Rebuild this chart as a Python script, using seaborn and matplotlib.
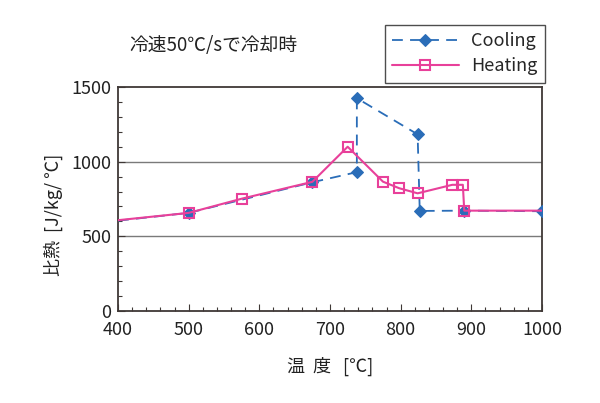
import numpy as np
import pandas as pd
import matplotlib
matplotlib.use("Agg")
import matplotlib.pyplot as plt
import seaborn as sns
from matplotlib.ticker import MultipleLocator

# 冷却時 (Cooling)
cool_temp = [400, 500, 675, 738, 738, 824, 827, 890, 1000]
cool_cp = [605, 657, 862, 930, 1425, 1183, 670, 672, 668]

# 加熱時 (Heating)
heat_temp = [400, 500, 575, 675, 725, 775, 798, 824, 873, 888, 890, 1000]
heat_cp = [608, 657, 752, 865, 1100, 866, 822, 788, 845, 845, 672, 672]

x_ticks = [400, 500, 600, 700, 800, 900, 1000]
y_ticks = [0, 500, 1000, 1500]

sns.set_theme(style="white")
plt.rcParams['font.family'] = ['Noto Sans CJK JP', 'DejaVu Sans']

blue = "#2a6db8"
pink = "#e8409a"
spine_c = "#3f3836"

fig = plt.figure(figsize=(6.0, 4.03), dpi=100)
ax = fig.add_axes([0.1967, 0.2283, 0.7066, 0.5558])

df_c = pd.DataFrame({"temp": cool_temp, "cp": cool_cp})
df_h = pd.DataFrame({"temp": heat_temp, "cp": heat_cp})

for y in [500, 1000]:
    ax.axhline(y, color="#7a7a7a", lw=1.0, zorder=0)

sns.lineplot(data=df_c, x="temp", y="cp", ax=ax, sort=False, estimator=None,
             color=blue, lw=1.3, dashes=False, linestyle=(0, (6, 4)),
             marker="D", markersize=6, markeredgecolor=blue, markerfacecolor=blue,
             markevery=list(range(1, len(cool_temp))), label="Cooling", zorder=3)
sns.lineplot(data=df_h, x="temp", y="cp", ax=ax, sort=False, estimator=None,
             color=pink, lw=1.5, marker="s", markersize=7.5, markeredgecolor=pink,
             markerfacecolor="none", markeredgewidth=1.5,
             markevery=list(range(1, len(heat_temp) - 1)), label="Heating", zorder=4)

ax.set_xlim(400, 1000)
ax.set_ylim(0, 1500)
ax.set_xticks(x_ticks)
ax.set_yticks(y_ticks)
ax.xaxis.set_minor_locator(MultipleLocator(20))
ax.yaxis.set_minor_locator(MultipleLocator(100))
ax.tick_params(axis="both", which="major", direction="in", length=5, width=0.8,
               color=spine_c, labelsize=13, labelcolor="#222222", pad=5)
ax.tick_params(axis="both", which="minor", direction="in", length=3, width=0.8, color=spine_c)
ax.tick_params(axis="x", which="major", pad=7)
ax.tick_params(bottom=True, left=True, which="both")
for s in ax.spines.values():
    s.set_color(spine_c)
    s.set_linewidth(1.3)

ax.set_xlabel("温  度   [℃]", fontsize=13, color="#222222", labelpad=13)
ax.set_ylabel("比熱  [J/kg/ ℃]", fontsize=13, color="#222222")
ax.yaxis.set_label_coords(-0.13, 0.43)

fig.text(0.355, 0.888, "冷速50℃/sで冷却時", fontsize=13.5, ha="center", va="center",
         color="#222222")

leg = ax.legend(loc="upper right", bbox_to_anchor=(0.908, 0.938),
                bbox_transform=fig.transFigure, frameon=True, fancybox=False,
                fontsize=13, handlelength=3.7, borderpad=0.4, labelspacing=0.4,
                handletextpad=0.7, borderaxespad=0)
leg.get_frame().set_edgecolor("#222222")
leg.get_frame().set_linewidth(1.0)

fig.savefig("out.png", dpi=100)
